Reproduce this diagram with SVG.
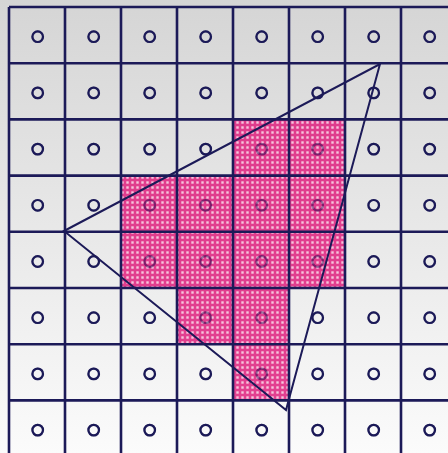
<svg xmlns="http://www.w3.org/2000/svg" width="448" height="453" viewBox="0 0 448 453">
<defs>
<linearGradient id="bg" x1="0" y1="0" x2="0" y2="1">
<stop offset="0" stop-color="#d5d5d5"/>
<stop offset="1" stop-color="#fbfbfb"/>
</linearGradient>
<pattern id="dots" width="5" height="5" patternUnits="userSpaceOnUse">
<rect width="5" height="5" fill="#e0207e" opacity="0.85"/>
<rect x="1.3" y="1.3" width="2.4" height="2.4" fill="#ffffff" opacity="0.7"/>
</pattern>
<circle id="dot" r="5.3" fill="none" stroke="#1c1a58" stroke-width="2.2"/>
</defs>
<style>
.grid{stroke:#1c1a58;stroke-width:2.6;fill:none}
.tri{stroke:#1c1a58;stroke-width:2;fill:none}
.cov{fill:url(#dots)}
</style>
<rect width="448" height="453" fill="url(#bg)"/>
<g id="samples">
<g transform="translate(37.7,36.7)"><use href="#dot"/><use href="#dot" x="56"/><use href="#dot" x="112"/><use href="#dot" x="168"/><use href="#dot" x="224"/><use href="#dot" x="280"/><use href="#dot" x="336"/><use href="#dot" x="392"/></g>
<g transform="translate(37.7,92.9)"><use href="#dot"/><use href="#dot" x="56"/><use href="#dot" x="112"/><use href="#dot" x="168"/><use href="#dot" x="224"/><use href="#dot" x="280"/><use href="#dot" x="336"/><use href="#dot" x="392"/></g>
<g transform="translate(37.7,149.1)"><use href="#dot"/><use href="#dot" x="56"/><use href="#dot" x="112"/><use href="#dot" x="168"/><use href="#dot" x="224"/><use href="#dot" x="280"/><use href="#dot" x="336"/><use href="#dot" x="392"/></g>
<g transform="translate(37.7,205.3)"><use href="#dot"/><use href="#dot" x="56"/><use href="#dot" x="112"/><use href="#dot" x="168"/><use href="#dot" x="224"/><use href="#dot" x="280"/><use href="#dot" x="336"/><use href="#dot" x="392"/></g>
<g transform="translate(37.7,261.5)"><use href="#dot"/><use href="#dot" x="56"/><use href="#dot" x="112"/><use href="#dot" x="168"/><use href="#dot" x="224"/><use href="#dot" x="280"/><use href="#dot" x="336"/><use href="#dot" x="392"/></g>
<g transform="translate(37.7,317.7)"><use href="#dot"/><use href="#dot" x="56"/><use href="#dot" x="112"/><use href="#dot" x="168"/><use href="#dot" x="224"/><use href="#dot" x="280"/><use href="#dot" x="336"/><use href="#dot" x="392"/></g>
<g transform="translate(37.7,373.9)"><use href="#dot"/><use href="#dot" x="56"/><use href="#dot" x="112"/><use href="#dot" x="168"/><use href="#dot" x="224"/><use href="#dot" x="280"/><use href="#dot" x="336"/><use href="#dot" x="392"/></g>
<g transform="translate(37.7,430.1)"><use href="#dot"/><use href="#dot" x="56"/><use href="#dot" x="112"/><use href="#dot" x="168"/><use href="#dot" x="224"/><use href="#dot" x="280"/><use href="#dot" x="336"/><use href="#dot" x="392"/></g>
</g>
<g id="covered">
<rect class="cov" x="233" y="119.4" width="112" height="56.2"/>
<rect class="cov" x="121" y="175.6" width="224" height="112.4"/>
<rect class="cov" x="177" y="288" width="112" height="56.2"/>
<rect class="cov" x="233" y="344.2" width="56" height="56.2"/>
</g>
<use href="#samples" opacity="0.4"/>
<g id="grid" class="grid">
<path d="M9 7V453M65 7V453M121 7V453M177 7V453M233 7V453M289 7V453M345 7V453M401 7V453"/>
<path d="M9 7H448M9 63.2H448M9 119.4H448M9 175.6H448M9 231.8H448M9 288H448M9 344.2H448M9 400.4H448"/>
</g>
<g id="triangle">
<polygon class="tri" points="64,231 380,64 286,410"/>
</g>
</svg>
